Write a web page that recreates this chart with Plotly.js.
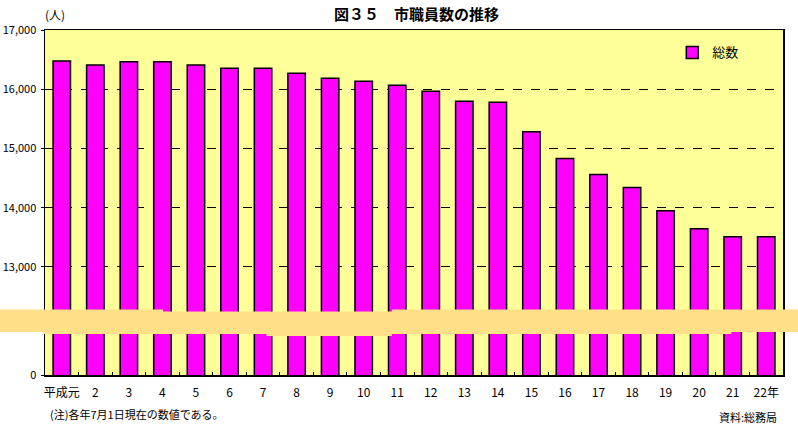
<!DOCTYPE html>
<html>
<head>
<meta charset="utf-8">
<script src="https://cdn.plot.ly/plotly-3.0.1.min.js"></script>
<style>
html,body{margin:0;padding:0;background:#fff;}
#chart{width:798px;height:424px;}
</style>
</head>
<body>
<div id="chart"></div>
<script>
var categories = ["平成元","2","3","4","5","6","7","8","9","10","11","12","13","14","15","16","17","18","19","20","21","22年"];
var totals = [16475,16407,16463,16463,16407,16356,16356,16271,16186,16136,16068,15966,15797,15780,15281,14831,14559,14339,13949,13644,13508,13508];
var seriesName = "総数";
var yTickVals = [11175,13000,14000,15000,16000,17000];
var yTickText = ["0","13,000","14,000","15,000","16,000","17,000"];
var yRange = [11175,17000];

var font = "'Noto Sans CJK JP', 'Liberation Sans', sans-serif";

var trace = {
  type: "bar",
  x: categories,
  y: totals,
  name: seriesName,
  marker: {color: "#FF00FF", line: {color: "#000000", width: 1.5}},
  width: 0.52,
  showlegend: true
};

// broken-axis band (decoration)
var bandPath = "M -0.062 0.190 L 0.16 0.190 L 0.16 0.184 L 0.47 0.184 L 0.47 0.190 L 1.022 0.190 " +
               "L 1.022 0.125 L 0.93 0.125 L 0.93 0.119 L 0.47 0.119 L 0.47 0.113 L 0.30 0.113 L 0.30 0.119 L -0.002 0.119 L -0.002 0.125 L -0.062 0.125 Z";

var layout = {
  width: 798, height: 424,
  margin: {l: 45, r: 15, t: 30, b: 49},
  paper_bgcolor: "#FFFFFF",
  plot_bgcolor: "#FFFF99",
  font: {family: font, size: 12, color: "#000"},
  title: {
    text: "<b>図３５　市職員数の推移</b>",
    font: {family: font, size: 15, color: "#000"},
    x: 0.522, xanchor: "center", y: 0.966, yanchor: "middle"
  },
  bargap: 0.48,
  xaxis: {
    type: "category",
    showline: true, linecolor: "#000", linewidth: 1.5, mirror: true,
    ticks: "inside", ticklen: 3, tickcolor: "#000", tickwidth: 1,
    tickson: "boundaries",
    tickangle: 0,
    ticklabelstandoff: 6,
    tickfont: {family: font, size: 12, color: "#000"},
    showgrid: false, zeroline: false, fixedrange: true
  },
  yaxis: {
    range: yRange,
    tickvals: yTickVals, ticktext: yTickText,
    showline: true, linecolor: "#000", linewidth: 1.5, mirror: true,
    ticks: "outside", ticklen: 3, tickcolor: "#000",
    showgrid: true, gridcolor: "#000", gridwidth: 1, griddash: "dash",
    zeroline: false,
    tickfont: {family: font, size: 11, color: "#000"},
    ticklabelstandoff: 2,
    fixedrange: true
  },
  legend: {
    x: 0.85, y: 0.935, xanchor: "left", yanchor: "middle",
    bgcolor: "rgba(0,0,0,0)", borderwidth: 0,
    font: {family: font, size: 13, color: "#000"},
    itemwidth: 30
  },
  shapes: [
    {type: "path", xref: "paper", yref: "paper", path: bandPath,
     fillcolor: "#FFDF88", line: {width: 0}, layer: "above"}
  ],
  annotations: [
    {text: "(人)", xref: "paper", yref: "paper", x: -0.003, y: 1.045, xanchor: "left", yanchor: "middle",
     showarrow: false, font: {family: font, size: 12, color: "#000"}},
    {text: "(注)各年7月1日現在の数値である。", xref: "paper", yref: "paper", x: 0.004, y: -0.112, xanchor: "left", yanchor: "middle",
     showarrow: false, font: {family: font, size: 11, color: "#000"}},
    {text: "資料:総務局", xref: "paper", yref: "paper", x: 0.995, y: -0.122, xanchor: "right", yanchor: "middle",
     showarrow: false, font: {family: font, size: 11, color: "#000"}}
  ]
};

Plotly.newPlot("chart", [trace], layout, {displayModeBar: false, staticPlot: true});
</script>
</body>
</html>
